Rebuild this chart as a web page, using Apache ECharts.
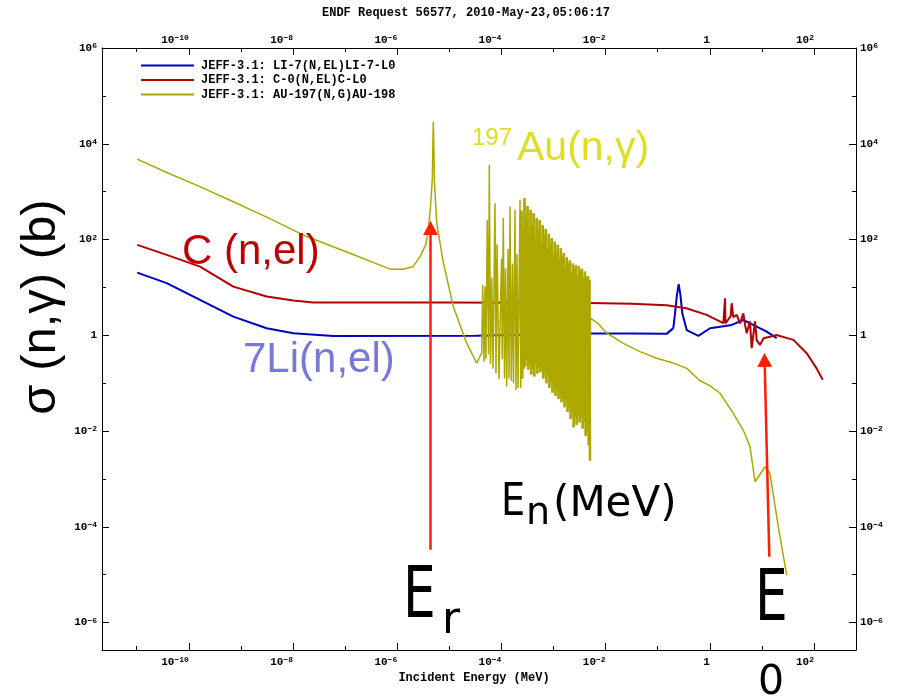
<!DOCTYPE html>
<html>
<head>
<meta charset="utf-8">
<script src="https://cdn.jsdelivr.net/npm/echarts@6/dist/echarts.min.js"></script>
<style>
  html, body { margin: 0; padding: 0; background: #fff; }
  #chart { width: 904px; height: 699px; }
</style>
</head>
<body>
<div id="chart"></div>
<script>
// all values are log10: energy in MeV, cross section in barns
const liName = 'JEFF-3.1: LI-7(N,EL)LI-7-L0';
const cName = 'JEFF-3.1: C-0(N,EL)C-L0';
const auName = 'JEFF-3.1: AU-197(N,G)AU-198';

const liLogE = [-10.99, -10.424, -9.785, -9.146, -8.505, -7.994, -7.226, -4.5, -2.3, -1.5, -0.83, -0.70, -0.668, -0.63, -0.597, -0.565, -0.528, -0.443, -0.22, 0.004, 0.2, 0.42, 0.643, 0.9, 1.092, 1.284];
const liLogXs = [1.31, 1.09, 0.74, 0.39, 0.148, 0.044, -0.013, -0.01, 0.04, 0.04, 0.03, 0.15, 0.46, 0.85, 1.07, 0.85, 0.46, 0.11, -0.013, 0.148, 0.18, 0.217, 0.32, 0.18, 0.077, -0.06];

const cLogE = [-10.99, -10.424, -9.785, -9.146, -8.505, -7.994, -7.61, -5.0, -2.3, -1.5, -0.83, -0.45, -0.06, 0.26, 0.292, 0.30, 0.40, 0.42, 0.45, 0.516, 0.58, 0.643, 0.68, 0.708, 0.77, 0.804, 0.868, 0.9, 0.964, 1.03, 1.155, 1.28, 1.603, 1.86, 2.05, 2.167];
const cLogXs = [1.888, 1.68, 1.435, 1.017, 0.81, 0.725, 0.683, 0.683, 0.675, 0.66, 0.63, 0.566, 0.426, 0.253, 0.775, 0.25, 0.40, 0.67, 0.38, 0.426, 0.25, 0.46, 0.2, 0.044, 0.29, -0.27, 0.29, -0.1, -0.2, -0.06, -0.03, 0.008, -0.096, -0.374, -0.69, -0.93];

// Au-197 capture: thermal + first resonance
const auLowE = [-10.99, -10.424, -9.785, -9.146, -8.505, -7.737, -6.906, -6.138, -5.883, -5.70, -5.562, -5.45, -5.403, -5.36, -5.326, -5.315, -5.307, -5.298, -5.285, -5.242, -5.115, -4.923, -4.666, -4.474, -4.378];
const auLowXs = [3.68, 3.40, 3.106, 2.79, 2.467, 2.062, 1.715, 1.381, 1.381, 1.43, 1.644, 1.9, 2.2, 2.7, 3.25, 4.0, 4.46, 4.0, 3.2, 2.36, 1.52, 0.60, -0.165, -0.583, -0.367];

// resolved resonance region (peaks and valleys, in order)
const auResE = [
  -4.359, -4.334, -4.315, -4.298, -4.271, -4.248, -4.232, -4.209, -4.186, -4.161,
  -4.123, -4.104, -4.084, -4.046, -3.998, -3.983, -3.964, -3.940, -3.921, -3.898,
  -3.873, -3.854, -3.835, -3.810, -3.787, -3.768, -3.739, -3.720, -3.701, -3.681,
  -3.643, -3.628,
  -3.614, -3.600, -3.585, -3.571, -3.556, -3.542, -3.527, -3.513, -3.498, -3.484,
  -3.469, -3.455, -3.440, -3.426, -3.411, -3.397, -3.382, -3.368, -3.353, -3.339,
  -3.324, -3.310, -3.295, -3.281, -3.266, -3.252, -3.237, -3.223, -3.208, -3.194,
  -3.179, -3.165, -3.150, -3.136, -3.121, -3.107, -3.092, -3.078, -3.063, -3.049,
  -3.034, -3.020, -3.005, -2.991, -2.976, -2.962, -2.947, -2.933, -2.918, -2.904,
  -2.889, -2.875, -2.860, -2.846, -2.831, -2.817, -2.802, -2.788, -2.773, -2.759,
  -2.744, -2.730, -2.715, -2.701, -2.686, -2.672, -2.657, -2.643, -2.628, -2.614,
  -2.599, -2.585, -2.570, -2.556, -2.541, -2.527, -2.512, -2.498, -2.483, -2.469,
  -2.454, -2.440, -2.425, -2.411, -2.396, -2.382, -2.367, -2.353, -2.338, -2.324,
  -2.309, -2.300, -2.290
];
const auResXs = [
  1.05, -0.55, 1.02, -0.5, 2.41, -0.4, 3.56, -0.6, 1.2, -0.7,
  2.76, -0.8, 1.9, -0.92, 1.6, -0.5, 2.45, -0.9, 1.4, -1.07,
  1.8, -0.9, 2.69, -0.95, 1.5, -1.0, 2.62, -1.14, 1.7, -1.1,
  2.83, -1.1,
  2.6, -0.9, 2.2, -0.7, 2.86, -0.65, 2.4, -0.5, 2.7, -0.72,
  2.1, -0.6, 2.62, -0.82, 2.3, -0.7, 2.55, -0.86, 2.0, -0.6,
  2.45, -0.8, 2.2, -0.65, 2.41, -0.77, 1.9, -0.7, 2.3, -0.9,
  2.1, -0.8, 2.22, -1.0, 1.8, -0.85, 2.12, -1.1, 1.9, -0.95,
  2.03, -1.2, 1.7, -1.05, 1.96, -1.26, 1.75, -1.1, 1.89, -1.33,
  1.6, -1.2, 1.82, -1.4, 1.65, -1.3, 1.72, -1.5, 1.45, -1.35,
  1.63, -1.6, 1.5, -1.5, 1.56, -1.75, 1.3, -1.6, 1.5, -1.92,
  1.4, -1.7, 1.47, -1.87, 1.25, -1.65, 1.44, -1.82, 1.35, -1.7,
  1.39, -1.95, 1.2, -1.8, 1.33, -2.1, 1.22, -2.0, 1.24, -2.3,
  1.16, -2.62, 0.36
];

// unresolved / fast region
const auHighE = [-2.15, -1.98, -1.66, -1.34, -1.02, -0.70, -0.44, -0.19, 0.0, 0.196, 0.451, 0.65, 0.772, 0.868, 1.06, 1.155, 1.315, 1.476];
const auHighXs = [0.25, 0.05, -0.17, -0.34, -0.48, -0.58, -0.69, -0.95, -1.05, -1.21, -1.63, -2.0, -2.325, -3.058, -2.745, -2.885, -4.0, -5.01];

// annotation arrows: [start, end] in the same log units
const arrowErE = [-5.36, -5.36];
const arrowErXs = [-4.48, 2.24];
const arrowE0E = [1.142, 1.052];
const arrowE0Xs = [-4.623, -0.514];

// decades shown on the axes
const xMajor = [-10, -8, -6, -4, -2, 0, 2];
const xMinor = [-11, -9, -7, -5, -3, -1, 1];
const yMajor = [-6, -4, -2, 0, 2, 4, 6];
const yMinor = [-5, -3, -1, 1, 3, 5];

const X_MIN = -11.666, X_MAX = 2.806;
const Y_MIN = -6.572, Y_MAX = 6;

const MONO = '"Liberation Mono", "DejaVu Sans Mono", monospace';
const SANS = '"Liberation Sans", Arial, sans-serif';
const ROUND = '"DejaVu Sans", sans-serif';

const LI_COLOR = '#0000c0';
const C_COLOR = '#b40000';
const AU_COLOR = '#aca800';

function pairs(es, xs) {
  return es.map((e, i) => [e, xs[i]]);
}

function powLabel(v) {
  if (v === 0) return '{b|1}';
  return '{b|10}{e|' + String(v).replace('-', '\u2212') + '}';
}

const labelRich = {
  b: { fontFamily: MONO, fontWeight: 'bold', fontSize: 11, lineHeight: 12, color: '#000' },
  e: { fontFamily: MONO, fontWeight: 'bold', fontSize: 8, lineHeight: 7, color: '#000', verticalAlign: 'top' }
};

function axis(kind, position, ticks, tickLen, labels, margin, align) {
  const min = kind === 'x' ? X_MIN : Y_MIN;
  const max = kind === 'x' ? X_MAX : Y_MAX;
  return {
    type: 'value',
    position,
    min,
    max,
    axisLine: { show: !!labels, onZero: false, lineStyle: { color: '#000', width: 1 } },
    axisTick: { show: true, inside: true, length: tickLen, customValues: ticks, lineStyle: { color: '#000', width: 1 } },
    axisLabel: labels ? {
      show: true,
      customValues: labels,
      margin,
      align,
      formatter: powLabel,
      rich: labelRich
    } : { show: false },
    splitLine: { show: false }
  };
}

function textEl(text, x, y, font, fill, extra) {
  const el = {
    type: 'text',
    x,
    y,
    silent: true,
    z: 100,
    style: { text, font, fill, textAlign: 'left', textVerticalAlign: 'middle' }
  };
  if (extra) {
    if (extra.align) el.style.textAlign = extra.align;
    if (extra.rotation) el.rotation = extra.rotation;
    if (extra.scaleX) el.scaleX = extra.scaleX;
  }
  return el;
}

const chart = echarts.init(document.getElementById('chart'));

chart.setOption({
  animation: false,
  backgroundColor: '#fff',
  grid: { left: 102, right: 48, top: 48, bottom: 49, containLabel: false },
  xAxis: [
    axis('x', 'bottom', xMajor, 7, xMajor, 6, 'right'),
    axis('x', 'top', xMajor, 7, xMajor, 2, 'right'),
    axis('x', 'bottom', xMinor, 4, null),
    axis('x', 'top', xMinor, 4, null)
  ],
  yAxis: [
    axis('y', 'left', yMajor, 7, yMajor, 5, 'right'),
    axis('y', 'right', yMajor, 7, yMajor, 4, 'left'),
    axis('y', 'left', yMinor, 4, null),
    axis('y', 'right', yMinor, 4, null)
  ],
  legend: {
    data: [
      { name: liName, icon: 'rect' },
      { name: cName, icon: 'rect' },
      { name: auName, icon: 'rect' }
    ],
    orient: 'vertical',
    left: 136,
    top: 54.5,
    itemWidth: 53,
    itemHeight: 2,
    itemGap: 2.5,
    selectedMode: false,
    textStyle: { fontFamily: MONO, fontWeight: 'bold', fontSize: 12, lineHeight: 12, color: '#000', padding: [0, 0, 0, 2] }
  },
  series: [
    {
      name: liName,
      type: 'line',
      data: pairs(liLogE, liLogXs),
      symbol: 'none',
      color: LI_COLOR,
      lineStyle: { color: LI_COLOR, width: 2 }
    },
    {
      name: cName,
      type: 'line',
      data: pairs(cLogE, cLogXs),
      symbol: 'none',
      color: C_COLOR,
      lineStyle: { color: C_COLOR, width: 2 }
    },
    {
      name: auName,
      type: 'line',
      data: pairs(auLowE, auLowXs).concat(pairs(auResE, auResXs), pairs(auHighE, auHighXs)),
      symbol: 'none',
      color: AU_COLOR,
      lineStyle: { color: AU_COLOR, width: 1.5 }
    },
    {
      // the resonance forest again, drawn heavier so it reads as a filled band
      name: 'au-resonances',
      type: 'line',
      data: pairs(auResE.slice(32, auResE.length - 1), auResXs.slice(32, auResXs.length - 1)),
      symbol: 'none',
      color: AU_COLOR,
      lineStyle: { color: AU_COLOR, width: 2.6 }
    },
    {
      name: 'arrows',
      type: 'line',
      data: [],
      symbol: 'none',
      z: 10,
      markLine: {
        silent: true,
        symbol: ['none', 'triangle'],
        symbolSize: [15, 14],
        label: { show: false },
        lineStyle: { color: '#ff1e00', width: 2.5, type: 'solid' },
        data: [
          [{ coord: [arrowErE[0], arrowErXs[0]] }, { coord: [arrowErE[1], arrowErXs[1]] }],
          [{ coord: [arrowE0E[0], arrowE0Xs[0]] }, { coord: [arrowE0E[1], arrowE0Xs[1]] }]
        ]
      }
    }
  ],
  graphic: [
    textEl('ENDF Request 56577, 2010-May-23,05:06:17', 466, 13, 'bold 12px ' + MONO, '#000', { align: 'center' }),
    textEl('Incident Energy (MeV)', 474, 678, 'bold 12px ' + MONO, '#000', { align: 'center' }),
    textEl('σ (n,γ) (b)', 41, 307, '49px ' + SANS, '#000', { align: 'center', rotation: Math.PI / 2 }),
    textEl('C (n,el)', 182, 252, '42px ' + SANS, '#c00000'),
    textEl('7Li(n,el)', 243, 360, '42px ' + SANS, '#7878d8'),
    textEl('197', 472, 138, '24px ' + SANS, '#dede22'),
    textEl('Au(n,γ)', 517, 149, '41px ' + SANS, '#dede22'),
    textEl('E', 501, 503.5, '45px ' + ROUND, '#000', { scaleX: 0.85 }),
    textEl('n', 526, 514.5, '38px ' + ROUND, '#000'),
    textEl('(MeV)', 553, 505, '42px ' + ROUND, '#000'),
    textEl('E', 403, 598.5, '72px ' + ROUND, '#000', { scaleX: 0.72 }),
    textEl('r', 442, 621.5, '44px ' + ROUND, '#000'),
    textEl('E', 755, 601.5, '72px ' + ROUND, '#000', { scaleX: 0.72 }),
    textEl('0', 758, 683, '41px ' + ROUND, '#000')
  ]
});
</script>
</body>
</html>
